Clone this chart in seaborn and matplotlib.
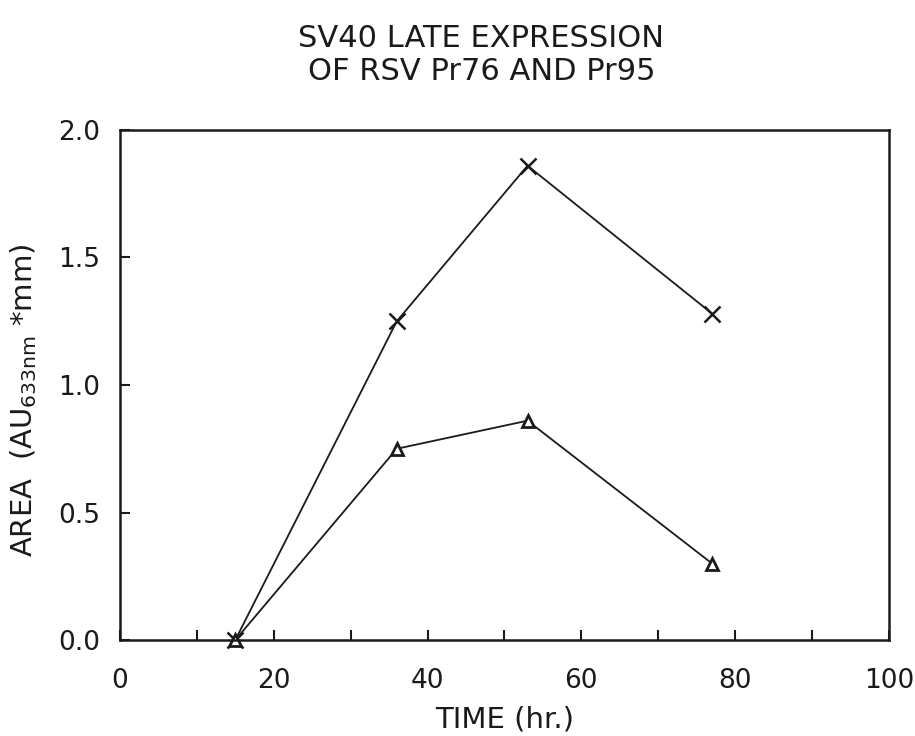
import numpy as np
import pandas as pd
import seaborn as sns
import matplotlib.pyplot as plt

# values
time_hr = [15, 36, 53, 77]
area_cross = [0.0, 1.25, 1.86, 1.28]
area_triangle = [0.0, 0.75, 0.86, 0.30]

x_ticks = [0, 20, 40, 60, 80, 100]
x_minor = [10, 30, 50, 70, 90]
y_ticks = [0.0, 0.5, 1.0, 1.5, 2.0]

sns.set_theme(style="white")
plt.rcParams['font.family'] = ['DejaVu Sans']
plt.rcParams['text.color'] = 'k'
plt.rcParams['axes.labelcolor'] = 'k'

fig = plt.figure(figsize=(9.15, 7.36), dpi=100)
ax = fig.add_axes([0.1311, 0.1304, 0.8404, 0.693])

df = pd.DataFrame({"time": time_hr, "cross": area_cross, "tri": area_triangle})

sns.lineplot(data=df, x="time", y="cross", ax=ax, color="k", lw=1.3,
             marker="x", markersize=11, markeredgewidth=1.8,
             markeredgecolor="k", clip_on=False)
sns.lineplot(data=df, x="time", y="tri", ax=ax, color="k", lw=1.3,
             marker="^", markersize=9, markeredgewidth=2.0,
             markerfacecolor="white", markeredgecolor="k", clip_on=False)

ax.set_xlim(0, 100)
ax.set_ylim(0, 2.0)
ax.set_xticks(x_ticks)
ax.set_xticks(x_minor, minor=True)
ax.set_xticklabels([str(t) for t in x_ticks])
ax.set_yticks(y_ticks)
ax.set_yticklabels(["%.1f" % t for t in y_ticks])

for s in ax.spines.values():
    s.set_linewidth(1.8)
    s.set_color("k")

ax.tick_params(axis="x", which="both", bottom=True, direction="in", length=7,
               width=1.5, pad=20, colors="k", labelsize=19)
ax.tick_params(axis="y", which="both", left=True, direction="in", length=7,
               width=1.5, pad=14, colors="k", labelsize=19)

ax.set_xlabel("TIME (hr.)", fontsize=21)
ax.set_ylabel(r"AREA  (AU$_{\mathregular{633nm}}$ *mm)", fontsize=21)
ax.xaxis.set_label_coords(0.5, -0.128)
ax.yaxis.set_label_coords(-0.105, 0.47)

fig.text(0.526, 0.967, "SV40 LATE EXPRESSION\nOF RSV Pr76 AND Pr95",
         ha="center", va="top", fontsize=22, linespacing=1.15)

fig.savefig("out.png", dpi=100, facecolor="white")
